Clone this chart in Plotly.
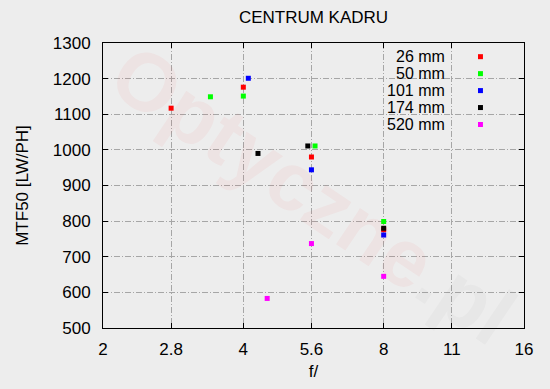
import plotly.graph_objects as go

# ---- data ----
series_names = ["26 mm", "50 mm", "101 mm", "174 mm", "520 mm"]
series_colors = ["#ff0000", "#00ff00", "#0000ff", "#000000", "#ff00ff"]

f_26 = [2.8, 4.0, 5.6, 8.0]
mtf_26 = [1117, 1176, 980, 776]

f_50 = [3.4, 4.0, 5.7, 8.0]
mtf_50 = [1149, 1151, 1011, 799]

f_101 = [4.1, 5.6, 8.0]
mtf_101 = [1201, 944, 761]

f_174 = [4.3, 5.5, 8.0]
mtf_174 = [990, 1011, 780]

f_520 = [4.5, 5.6, 8.0]
mtf_520 = [583, 737, 645]

x_tick_vals = [2, 2.8, 4, 5.6, 8, 11.2, 16]
x_tick_text = ["2", "2.8", "4", "5.6", "8", "11", "16"]

series_x = [f_26, f_50, f_101, f_174, f_520]
series_y = [mtf_26, mtf_50, mtf_101, mtf_174, mtf_520]

FONT = "Liberation Sans, Arial, sans-serif"
FS = 17
BG = "#ededed"

fig = go.Figure()

# watermark
fig.add_annotation(
    xref="paper", yref="paper", x=0.50, y=0.47,
    text="<b><span style='color:rgba(255,40,40,0.22)'>Optyczne</span>"
         "<span style='color:rgba(110,110,110,0.18)'>.pl</span></b>",
    textangle=34, showarrow=False,
    font=dict(family=FONT, size=82, color="rgba(255,40,40,0.22)"),
)

for name, color, xs, ys in zip(series_names, series_colors, series_x, series_y):
    fig.add_trace(go.Scatter(
        x=xs, y=ys, mode="markers", name=name,
        marker=dict(symbol="square", size=5, color=color, line=dict(width=0)),
        showlegend=False,
    ))

# legend (text left, marker right, like the reference)
legend_y0 = 0.952
legend_step = 0.0595
for i, (name, color) in enumerate(zip(series_names, series_colors)):
    yy = legend_y0 - i * legend_step
    fig.add_annotation(
        xref="paper", yref="paper", x=0.8136, y=yy, xanchor="right", yanchor="middle",
        text=name, showarrow=False, font=dict(family=FONT, size=16, color="black"),
        borderpad=0,
    )
    fig.add_shape(
        type="rect", xref="paper", yref="paper",
        x0=0.8966 - 0.0059, x1=0.8966 + 0.0059, y0=yy - 0.0088, y1=yy + 0.0088,
        fillcolor=color, line=dict(width=0),
    )

grid_style = dict(showgrid=True, gridcolor="#a6a6a6", gridwidth=1, griddash="6px,2px,1px,2px")

fig.update_layout(
    width=550, height=389,
    margin=dict(l=103, r=26, t=43, b=61, autoexpand=False),
    paper_bgcolor=BG, plot_bgcolor=BG,
    font=dict(family=FONT, size=FS, color="black"),
    title=dict(text="CENTRUM KADRU", xref="paper", x=0.5, xanchor="center",
               yref="container", y=0.955, yanchor="middle",
               font=dict(family=FONT, size=FS, color="black")),
    xaxis=dict(
        type="log", range=[0.30103, 1.20412],
        tickvals=x_tick_vals, ticktext=x_tick_text,
        ticks="inside", ticklen=5, tickcolor="black",
        showline=True, linecolor="black", linewidth=1, mirror="ticks",
        zeroline=False, ticklabelstandoff=6, automargin=False,
        title=dict(text="f/", standoff=6, font=dict(family=FONT, size=FS)),
        **grid_style,
    ),
    yaxis=dict(
        range=[500, 1300], dtick=100, tick0=500,
        ticks="inside", ticklen=5, tickcolor="black",
        showline=True, linecolor="black", linewidth=1, mirror="ticks",
        zeroline=False, ticklabelstandoff=8, automargin=False,
        title=dict(text="MTF50 [LW/PH]", standoff=19, font=dict(family=FONT, size=FS)),
        **grid_style,
    ),
)

fig.write_html(
    "out.html",
    config={"displayModeBar": False},
    post_script="document.body.style.margin='0';document.body.style.background='%s';" % BG,
)
